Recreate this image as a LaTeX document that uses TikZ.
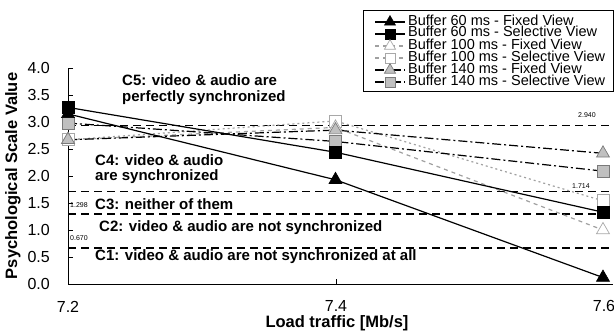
\documentclass[tikz,border=0pt]{standalone}
\usepackage{fontspec}
\setmainfont{Liberation Sans}
\usetikzlibrary{shapes.geometric}

\definecolor{markgrey}{HTML}{C0C0C0}
\definecolor{edgegrey}{HTML}{7A7A7A}
\definecolor{paleedge}{HTML}{A8A8A8}
\definecolor{paleline}{HTML}{A0A0A0}

\tikzset{
  tri/.style={regular polygon, regular polygon sides=3, minimum size=15pt, inner sep=0pt},
  sqr/.style={rectangle, minimum size=12pt, inner sep=0pt},
  blackmark/.style={fill=black, draw=black, line width=0.6pt},
  greymark/.style={fill=markgrey, draw=edgegrey, line width=0.7pt},
  whitemark/.style={fill=white, draw=paleedge, line width=0.7pt},
  levelline/.style={draw=black, line width=1.4pt, dash pattern=on 8pt off 5pt},
  solidline/.style={draw=black, line width=1.2pt},
  dashdotline/.style={draw=black, line width=1.2pt, dash pattern=on 9pt off 3pt on 2pt off 3pt},
  greydash/.style={draw=paleline, line width=1.2pt, dash pattern=on 4pt off 4pt},
  greydot/.style={draw=paleline, line width=1.2pt, dash pattern=on 2pt off 3pt},
  ticklab/.style={font=\fontsize{16}{16}\selectfont, inner sep=0pt},
  axtitle/.style={font=\fontsize{16.5}{17}\selectfont\bfseries, inner sep=0pt},
  condtext/.style={font=\fontsize{15}{15}\selectfont\bfseries, anchor=west, inner sep=0pt},
  levellab/.style={font=\fontsize{7}{7}\selectfont, inner sep=0pt},
  legtext/.style={font=\fontsize{14.5}{12}\selectfont, anchor=west, inner sep=0pt,
    text height=8pt, text depth=2pt},
}

\begin{document}
\begin{tikzpicture}[x=1pt,y=-1pt]
\useasboundingbox (0,0) rectangle (614,332);

% axes
\draw[line width=0.9pt] (73,68) -- (68,68) -- (68,284) -- (613,284);
\foreach \k in {1,...,7} \draw[line width=0.9pt] (68,68+27*\k) -- (73,68+27*\k);
\draw[line width=0.9pt] (336,284) -- (336,279);

% tick labels
\foreach \v [count=\i from 0] in {4.0,3.5,3.0,2.5,2.0,1.5,1.0,0.5,0.0}
  \node[ticklab, anchor=east] (yl\i) at (50,68+27*\i) {\v};
\node[ticklab] (x72) at (68,307) {7.2};
\node[ticklab] (x74) at (336,306) {7.4};
\node[ticklab] (x76) at (604,306) {7.6};

\node[axtitle] (xtitle) at (337,323) {Load traffic [Mb/s]};
\node[axtitle, rotate=90] (ytitle) at (13,176) {Psychological Scale Value};

% data region: origin at (7.2, 0)
\begin{scope}[shift={(68,284)}, x=1337.5pt, y=54pt]
  % category boundaries
  \coordinate (l1a) at (0,2.940); \coordinate (l1b) at (0.407,2.940);
  \coordinate (l2a) at (0,1.714); \coordinate (l2b) at (0.407,1.714);
  \coordinate (l3a) at (0,1.298); \coordinate (l3b) at (0.407,1.298);
  \coordinate (l4a) at (0,0.670); \coordinate (l4b) at (0.407,0.670);
  \draw[levelline] (l1a) -- (l1b);
  \draw[levelline] (l2a) -- (l2b);
  \draw[levelline] (l3a) -- (l3b);
  \draw[levelline] (l4a) -- (l4b);

  % data points
  \coordinate (a1) at (0,3.15);  \coordinate (a2) at (0.2,1.93); \coordinate (a3) at (0.4,0.12);
  \coordinate (b1) at (0,3.27);  \coordinate (b2) at (0.2,2.44); \coordinate (b3) at (0.4,1.33);
  \coordinate (c1) at (0,2.67);  \coordinate (c2) at (0.2,2.90); \coordinate (c3) at (0.4,1.00);
  \coordinate (d1) at (0,2.67);  \coordinate (d2) at (0.2,3.02); \coordinate (d3) at (0.4,1.54);
  \coordinate (e1) at (0,2.67);  \coordinate (e2) at (0.2,2.85); \coordinate (e3) at (0.4,2.42);
  \coordinate (f1) at (0,2.98);  \coordinate (f2) at (0.2,2.64); \coordinate (f3) at (0.4,2.09);
\end{scope}

% level values
\node[levellab] (v1) at (587,115) {2.940};
\node[levellab] (v2) at (581,186) {1.714};
\node[levellab] (v3) at (79,205) {1.298};
\node[levellab] (v4) at (79,238) {0.670};

% category captions
\node[condtext] (cap5a) at (122,80) {C5: video \& audio are};
\node[condtext] (cap5b) at (122,98) {perfectly synchronized};
\node[condtext] (cap4a) at (95,160) {C4: video \& audio};
\node[condtext] (cap4b) at (95,177) {are synchronized};
\node[condtext] (cap3) at (95,204) {C3: neither of them};
\node[condtext] (cap2) at (99,228) {C2: video \& audio are not synchronized};
\node[condtext] (cap1) at (95,257) {C1: video \& audio are not synchronized at all};

% series lines
\draw[greydot] (d1) -- (d2) -- (d3);
\draw[greydash] (c1) -- (c2) -- (c3);
\draw[dashdotline] (e1) -- (e2) -- (e3);
\draw[dashdotline] (f1) -- (f2) -- (f3);
\draw[solidline] (a1) -- (a2) -- (a3);
\draw[solidline] (b1) -- (b2) -- (b3);

% series markers
\foreach \p in {1,2,3} {
  \node[sqr, whitemark] (md\p) at (d\p) {};
  \node[tri, whitemark] (mc\p) at (c\p) {};
  \node[tri, greymark] (me\p) at (e\p) {};
  \node[sqr, greymark] (mf\p) at (f\p) {};
  \node[tri, blackmark] (ma\p) at (a\p) {};
  \node[sqr, blackmark] (mb\p) at (b\p) {};
}

% legend
\draw[line width=0.8pt] (363,10) rectangle (613,91);
\foreach \y/\ls/\ms/\mk/\txt [count=\i] in {
  22/solidline/tri/blackmark/Buffer 60 ms - Fixed View,
  34/solidline/sqr/blackmark/Buffer 60 ms - Selective View,
  46/greydash/tri/whitemark/Buffer 100 ms - Fixed View,
  58/greydash/sqr/whitemark/Buffer 100 ms - Selective View,
  70/dashdotline/tri/greymark/Buffer 140 ms - Fixed View,
  82/dashdotline/sqr/greymark/Buffer 140 ms - Selective View} {
  \coordinate (ls\i) at (375,\y);
  \coordinate (le\i) at (405,\y);
  \draw[\ls] (ls\i) -- (le\i);
  \node[\ms, \mk, scale=0.85] (lm\i) at (390,\y) {};
  \node[legtext] (lt\i) at (408,\y) {\txt};
}
\end{tikzpicture}
\end{document}
